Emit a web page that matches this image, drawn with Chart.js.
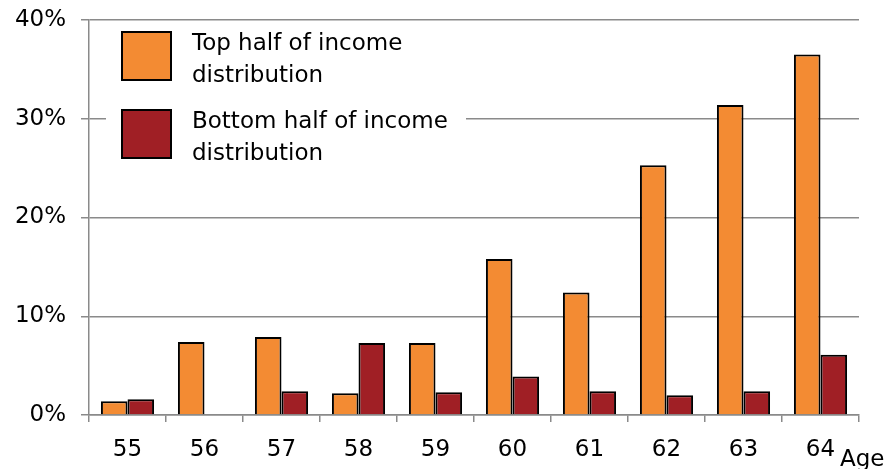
<!DOCTYPE html>
<html>
<head>
<meta charset="utf-8">
<script src="https://cdn.jsdelivr.net/npm/chart.js@4.4.0/dist/chart.umd.min.js"></script>
<style>
  html, body { margin: 0; padding: 0; background: #fff; }
  #wrap { width: 888px; height: 469px; }
</style>
</head>
<body>
<div id="wrap"><canvas id="c" width="888" height="469"></canvas></div>
<script>
const ages = ['55', '56', '57', '58', '59', '60', '61', '62', '63', '64'];
const topHalf = [1.4, 7.4, 7.9, 2.2, 7.3, 15.8, 12.4, 25.3, 31.4, 36.5];
const bottomHalf = [1.6, 0, 2.4, 7.3, 2.3, 3.9, 2.4, 2.0, 2.4, 6.1];
const yTickLabels = ['0%', '10%', '20%', '30%', '40%'];
const seriesNames = [['Top half of income', 'distribution'], ['Bottom half of income', 'distribution']];
const xTitle = 'Age';

const FONT = 'DejaVu Sans';
const ORANGE = '#F38B33';
const DARKRED = '#A01F25';
const GRID = '#8a8a8a';

const overlay = {
  id: 'overlay',
  afterDraw(chart) {
    const ctx = chart.ctx;
    ctx.save();
    ctx.fillStyle = '#fff';
    ctx.fillRect(106, 25, 360, 148);
    const colors = [ORANGE, DARKRED];
    const sqTop = [32, 110];
    ctx.font = '23px "' + FONT + '"';
    ctx.textBaseline = 'alphabetic';
    ctx.textAlign = 'left';
    for (let i = 0; i < 2; i++) {
      ctx.fillStyle = colors[i];
      ctx.fillRect(122, sqTop[i], 49, 48);
      ctx.lineWidth = 2;
      ctx.strokeStyle = '#000';
      ctx.strokeRect(122, sqTop[i], 49, 48);
      ctx.fillStyle = '#000';
      ctx.fillText(seriesNames[i][0], 192, sqTop[i] + 17.5);
      ctx.fillText(seriesNames[i][1], 192, sqTop[i] + 50);
    }
    ctx.fillText(xTitle, 840, 466);
    ctx.restore();
  }
};

new Chart(document.getElementById('c'), {
  type: 'bar',
  data: {
    labels: ages,
    datasets: [
      { label: seriesNames[0].join(' '), data: topHalf, backgroundColor: ORANGE, borderColor: '#000', borderWidth: 2,
        categoryPercentage: 0.69, barPercentage: 1.0 },
      { label: seriesNames[1].join(' '), data: bottomHalf, backgroundColor: DARKRED, borderColor: '#000', borderWidth: 2,
        categoryPercentage: 0.69, barPercentage: 1.0 }
    ]
  },
  options: {
    responsive: false,
    animation: false,
    layout: { padding: { top: 20, right: 29, left: 0, bottom: 0 } },
    plugins: { legend: { display: false }, tooltip: { enabled: false } },
    scales: {
      x: {
        afterFit(s) { s.height = 54; s.paddingLeft = 0; s.paddingRight = 0; },
        grid: { drawOnChartArea: false, drawTicks: true, tickLength: 7, color: GRID, lineWidth: 1.5 },
        border: { display: true, color: GRID, width: 1.5 },
        ticks: { color: '#000', font: { family: FONT, size: 23 }, padding: 14, maxRotation: 0 }
      },
      y: {
        min: 0, max: 40,
        afterFit(s) { s.width = 89; s.paddingTop = 0; s.paddingBottom = 0; },
        grid: { color: GRID, lineWidth: 1.5, tickLength: 8, drawTicks: true },
        border: { display: true, color: GRID, width: 1.5 },
        ticks: {
          stepSize: 10, color: '#000', font: { family: FONT, size: 23 }, padding: 15,
          callback: (v) => yTickLabels[Math.round(v / 10)]
        }
      }
    }
  },
  plugins: [overlay]
});
</script>
</body>
</html>
